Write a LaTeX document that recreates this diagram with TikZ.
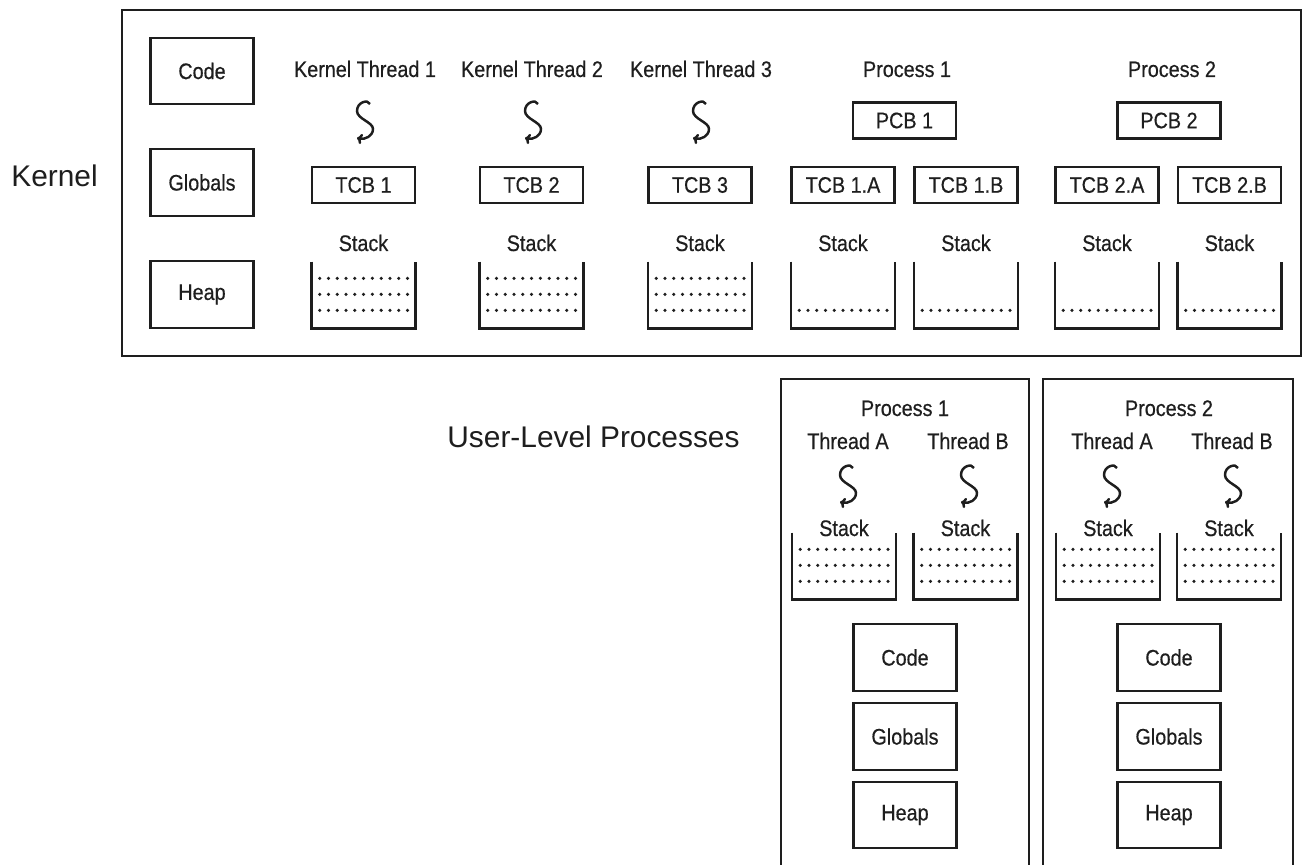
\documentclass[tikz,border=0pt]{standalone}
\usepackage{fontspec}
\setmainfont{Liberation Sans}
\newfontfamily\condfont[FakeStretch=0.88, FakeBold=0.5]{Liberation Sans}
\usepackage{tikz}
\usetikzlibrary{arrows.meta, positioning, calc}
\definecolor{ink}{RGB}{30, 30, 30}
\tikzstyle{block} = [rectangle, draw=ink, line width=1.4pt, minimum width=2.06cm, minimum height=0.72cm, inner sep=0pt, text=ink, font=\condfont\fontsize{12.8}{15}\selectfont]
\tikzstyle{segment} = [block, minimum width=2.06cm, minimum height=1.33cm]
\tikzstyle{heading} = [anchor=base, inner sep=0pt, text=ink, font=\condfont\fontsize{12.8}{15}\selectfont]
\tikzstyle{title} = [anchor=base, inner sep=0pt, text=ink, font=\fontsize{17}{20}\selectfont]
\tikzstyle{frame} = [draw=ink, line width=1.6pt]
\tikzstyle{well} = [rectangle, minimum width=2.06cm, minimum height=1.32cm, inner sep=0pt]
\tikzstyle{wall} = [draw=ink, line width=1.4pt]
\tikzstyle{dots} = [draw=ink, line width=2pt, line cap=round, dash pattern=on 0pt off 5pt]
\tikzstyle{thread} = [draw=ink, line width=1.4pt, -{To[length=3pt, width=6pt]}]
% open-topped stack: name, centre, dotted rows
\newcommand{\stackwell}[3]{%
  \node[well] (#1) at (#2) {};
  \draw[wall] (#1.north west) |- (#1.south east) -- (#1.north east);
  \foreach \r in {1,...,#3}
    \draw[dots] ([xshift=0.16cm, yshift=0.04cm+0.32cm*\r]#1.south west) -- ([xshift=-0.12cm, yshift=0.04cm+0.32cm*\r]#1.south east);
}
% thread squiggle at a centre
\newcommand{\squiggle}[1]{%
  \draw[thread, shift={(#1)}] (5,-18) .. controls (3,-23) and (-8,-20) .. (-8,-11) .. controls (-8,-3) and (8,0) .. (8,7) .. controls (8,14) and (0,18) .. (-8,16);
}

\begin{document}
\begin{tikzpicture}[x=0.02cm, y=-0.02cm]
    \useasboundingbox (0,0) rectangle (1313,865);

    % Kernel
    \node[title] (kernel) at (54.5,187) {Kernel};
    \draw[frame] (122,10) rectangle (1301,356);

    \node[segment] (kcode) at (202,71) {Code};
    \node[segment] (kglobals) at (202,182.5) {Globals};
    \node[segment] (kheap) at (202,294.5) {Heap};

    \node[heading] (kt1) at (365,77) {Kernel Thread 1};
    \node[heading] (kt2) at (532,77) {Kernel Thread 2};
    \node[heading] (kt3) at (701,77) {Kernel Thread 3};
    \node[heading] (kp1) at (907,77) {Process 1};
    \node[heading] (kp2) at (1172,77) {Process 2};

    \squiggle{365,122}
    \squiggle{533,122}
    \squiggle{701,122}

    \node[block] (pcb1) at (904.5,120.5) {PCB 1};
    \node[block] (pcb2) at (1169,120.5) {PCB 2};

    \node[block] (tcb1) at (363.5,185) {TCB 1};
    \node[block] (tcb2) at (531.5,185) {TCB 2};
    \node[block] (tcb3) at (700,185) {TCB 3};
    \node[block] (tcb1a) at (843,185) {TCB 1.A};
    \node[block] (tcb1b) at (966,185) {TCB 1.B};
    \node[block] (tcb2a) at (1107,185) {TCB 2.A};
    \node[block] (tcb2b) at (1229.5,185) {TCB 2.B};

    \node[heading] (ksl1) at (363.5,251) {Stack};
    \node[heading] (ksl2) at (531.5,251) {Stack};
    \node[heading] (ksl3) at (700,251) {Stack};
    \node[heading] (ksl1a) at (843,251) {Stack};
    \node[heading] (ksl1b) at (966,251) {Stack};
    \node[heading] (ksl2a) at (1107,251) {Stack};
    \node[heading] (ksl2b) at (1229.5,251) {Stack};

    \stackwell{ks1}{363.5,295}{3}
    \stackwell{ks2}{531.5,295}{3}
    \stackwell{ks3}{700,295}{3}
    \stackwell{ks1a}{843,295}{1}
    \stackwell{ks1b}{966,295}{1}
    \stackwell{ks2a}{1107,295}{1}
    \stackwell{ks2b}{1229.5,295}{1}

    % User-level processes
    \node[title] (user) at (593.5,447) {User-Level Processes};
    \draw[frame] (781,865) |- (1029,379) -- (1029,865);
    \draw[frame] (1043,865) |- (1293,379) -- (1293,865);

    \node[heading] (up1) at (905,416) {Process 1};
    \node[heading] (up2) at (1169,416) {Process 2};
    \node[heading] (u1ta) at (848,449) {Thread A};
    \node[heading] (u1tb) at (968,449) {Thread B};
    \node[heading] (u2ta) at (1112,449) {Thread A};
    \node[heading] (u2tb) at (1232,449) {Thread B};

    \squiggle{848,486}
    \squiggle{969,486}
    \squiggle{1112,486}
    \squiggle{1233,486}

    \node[heading] (usl1a) at (844,536) {Stack};
    \node[heading] (usl1b) at (965.5,536) {Stack};
    \node[heading] (usl2a) at (1108,536) {Stack};
    \node[heading] (usl2b) at (1229,536) {Stack};

    \stackwell{us1a}{844,566}{3}
    \stackwell{us1b}{965.5,566}{3}
    \stackwell{us2a}{1108,566}{3}
    \stackwell{us2b}{1229,566}{3}

    \node[segment] (u1code) at (905,657.5) {Code};
    \node[segment] (u1globals) at (905,736.5) {Globals};
    \node[segment] (u1heap) at (905,815) {Heap};
    \node[segment] (u2code) at (1169,657.5) {Code};
    \node[segment] (u2globals) at (1169,736.5) {Globals};
    \node[segment] (u2heap) at (1169,815) {Heap};
\end{tikzpicture}
\end{document}
